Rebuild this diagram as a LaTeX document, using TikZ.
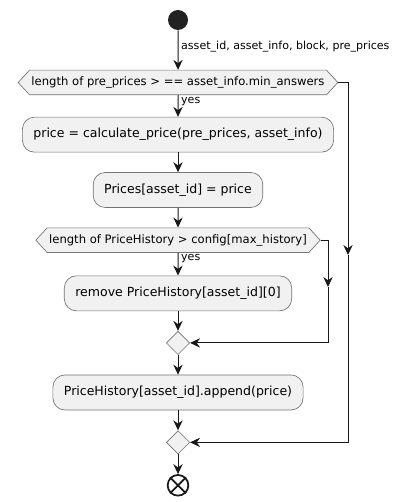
\documentclass[tikz,border=0pt]{standalone}
\usepackage{fontspec}
\setmainfont{DejaVu Sans}
\usepackage{tikz}
\usetikzlibrary{arrows.meta,positioning,shapes.geometric,shapes.symbols}
\definecolor{boxfill}{HTML}{F1F1F1}
\definecolor{lineclr}{HTML}{181818}
\definecolor{dotclr}{HTML}{222222}

\begin{document}
\begin{tikzpicture}[x=0.75pt,y=-0.75pt,->,>={Stealth[length=7.5pt,width=7pt,inset=2.5pt]},
		line width=0.75pt,draw=lineclr]
		\tikzstyle{action}=[rectangle,rounded corners=9pt,fill=boxfill,draw=black!55,line width=0.5pt,
			minimum height=26.25pt,inner xsep=8.25pt,font=\fontsize{9.4}{11}\selectfont]
		\tikzstyle{decision}=[signal,signal to=west and east,signal pointer angle=95,fill=boxfill,
			draw=black!55,line width=0.5pt,minimum height=18.5pt,inner xsep=1.5pt,inner ysep=0pt,
			font=\fontsize{8.7}{10}\selectfont]
		\tikzstyle{merge}=[diamond,fill=boxfill,draw=black!55,line width=0.5pt,minimum size=17.6pt,inner sep=0pt]
		\tikzstyle{start}=[circle,fill=dotclr,minimum size=15pt,inner sep=0pt]
		\tikzstyle{stop}=[circle,draw=lineclr,line width=1.3pt,fill=white,minimum size=15.5pt,inner sep=0pt]
		\tikzstyle{lbl}=[right,inner sep=2pt,font=\fontsize{8.3}{10}\selectfont]
		
		\useasboundingbox (0,0) rectangle (413,502);
		
		\node[start] (init) at (178,20) {};
		\node[decision] (minans) [below=29.5pt of init] {length of pre\_prices > == asset\_info.min\_answers};
		\node[action] (calc) [below=16.25pt of minans] {price = calculate\_price(pre\_prices, asset\_info)};
		\node[action] (store) [below=14.75pt of calc] {Prices[asset\_id] = price};
		\node[decision] (hist) [below=14.75pt of store] {length of PriceHistory > config[max\_history]};
		\node[action] (remove) [below=17pt of hist] {remove PriceHistory[asset\_id][0]};
		\node[merge] (join1) [below=14.75pt of remove] {};
		\node[action] (append) [below=14.75pt of join1] {PriceHistory[asset\_id].append(price)};
		\node[merge] (join2) [below=15pt of append] {};
		\node[stop] (final) [below=14.75pt of join2] {};
		\draw[-,line width=1.3pt] (final.north west) -- (final.south east)
			(final.north east) -- (final.south west);
		
		\coordinate (mid1) at (348,255);
		\coordinate (mid2) at (328,287);
		
		\path[->]
		(init) edge node[lbl,pos=0.42] {asset\_id, asset\_info, block, pre\_prices} (minans)
		(minans) edge node[lbl,pos=0.3] {yes} (calc)
		(calc) edge (store)
		(store) edge (hist)
		(hist) edge node[lbl,pos=0.25] {yes} (remove)
		(remove) edge (join1)
		(join1) edge (append)
		(append) edge (join2)
		(join2) edge (final);
		
		% no branches
		\draw (minans.east) -| (mid1);
		\draw (mid1) |- (join2.east);
		\draw (hist.east) -| (mid2);
		\draw (mid2) |- (join1.east);
\end{tikzpicture}
\end{document}
